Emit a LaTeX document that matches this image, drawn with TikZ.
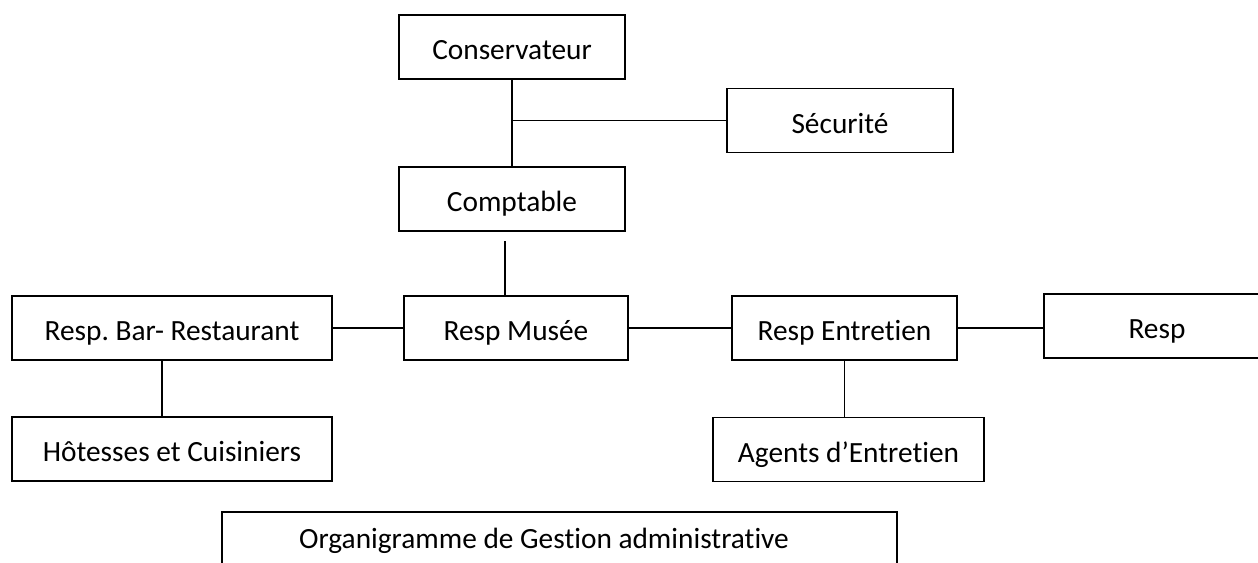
\documentclass[tikz,border=0pt]{standalone}
\usepackage{fontspec}
\setmainfont{Carlito}[Ligatures=NoCommon]
\frenchspacing
\tikzset{
  poste/.style={draw, line width=1.1pt, inner sep=0pt, outer sep=0pt,
    minimum height=1.28cm, text height=0.5cm, text depth=0pt},
  lien/.style={line width=1.1pt},
}
\begin{document}
\begin{tikzpicture}[x=0.02cm, y=-0.02cm, font=\fontsize{16.7}{20}\selectfont, line join=miter, line cap=rect]
			\def\W{1258} \def\H{562}
			\useasboundingbox (0,0) rectangle (\W,\H);
			\clip (0,0) rectangle (\W,\H);
			% les postes
			\foreach \n/\x/\y/\w/\t in {cons/512/47/226/Conservateur, secu/840/120.5/226/Sécurité,
				comp/512/199/226/Comptable, bar/172/328/320/Resp. Bar- Restaurant,
				musee/516/328/224/Resp Musée, entr/844.5/328/225/Resp Entretien,
				resp/1157/326/226/Resp, hotes/172/449/320/Hôtesses et Cuisiniers,
				agents/848.5/449.5/271/Agents d’Entretien}
				\node[poste, minimum width={\w*0.02cm}] (\n) at (\x,\y) {\t};
			\node[poste, anchor=north, minimum width=13.5cm, inner ysep=0.34cm,
				text height=0.38cm, text depth=1.2cm] (titre) at (559.5,512)
				{Organigramme de Gestion administrative\kern0.62cm};
			% les liens
			\coordinate (c1) at (505,242);
			\draw[lien] (cons) -- (comp) (secu.west) -- (secu.west -| cons.south)
			(c1) -- (c1 |- musee.north)
			(bar) -- (musee) (musee) -- (entr) (entr.east) -- (entr.east -| resp.west)
			([xshift=-0.2cm]bar.south) -- ([xshift=-0.2cm]hotes.north)
			(entr.south) -- (entr.south |- agents.north);
		\end{tikzpicture}
\end{document}
